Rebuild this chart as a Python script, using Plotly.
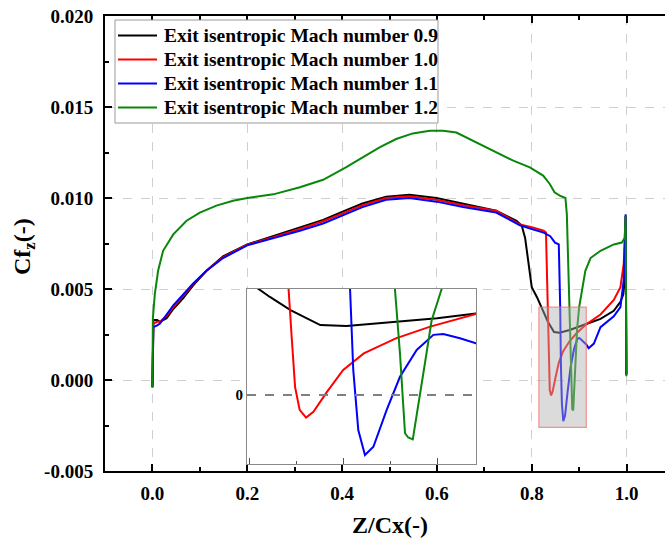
import plotly.graph_objects as go

# Skin-friction coefficient Cf_z along the axial chord for four exit Mach numbers
x_m09 = [0.0, 0.002, 0.01, 0.016, 0.03, 0.044, 0.065, 0.086, 0.114, 0.149, 0.2, 0.255,
         0.311, 0.36, 0.396, 0.443, 0.493, 0.542, 0.599, 0.655, 0.725, 0.768, 0.779,
         0.786, 0.793, 0.8, 0.811, 0.82, 0.825, 0.834, 0.847, 0.8585, 0.88, 0.898, 0.915,
         0.945, 0.973, 0.987, 0.993, 0.996, 0.998, 0.9995]
cf_m09 = [-0.0004, 0.0033, 0.0033, 0.0032, 0.0034, 0.0039, 0.0045, 0.0052, 0.0060, 0.0068,
          0.00745, 0.0079, 0.0084, 0.0088, 0.0092, 0.0097, 0.01007, 0.01018, 0.0100, 0.0097,
          0.0093, 0.00875, 0.00848, 0.0078, 0.0064, 0.0051, 0.00455, 0.0040, 0.0037, 0.0032,
          0.00264, 0.0026, 0.00275, 0.0029, 0.00308, 0.00336, 0.0038, 0.0043, 0.0047, 0.0055,
          0.0090, 0.0003]

x_m10 = [0.0, 0.002, 0.01, 0.016, 0.03, 0.044, 0.065, 0.086, 0.114, 0.149, 0.2, 0.255,
         0.311, 0.36, 0.396, 0.443, 0.493, 0.542, 0.599, 0.655, 0.725, 0.775, 0.8, 0.825,
         0.83, 0.8315, 0.833, 0.8345, 0.836, 0.838, 0.8408, 0.844, 0.85, 0.857, 0.866, 0.88,
         0.895, 0.915, 0.945, 0.973, 0.987, 0.994, 0.998, 0.9995]
cf_m10 = [-0.0004, 0.0031, 0.0032, 0.0032, 0.00353, 0.0040, 0.00463, 0.00527, 0.0060,
          0.00674, 0.00744, 0.00784, 0.0083, 0.00872, 0.0091, 0.0096, 0.0100, 0.0101, 0.0099,
          0.0096, 0.0093, 0.00855, 0.0084, 0.0082, 0.0081, 0.0062, 0.0040, 0.0022, 0.0003,
          -0.00056, -0.00085, -0.00063, 0.00013, 0.00095, 0.00157, 0.00214, 0.00258, 0.00306,
          0.0036, 0.0044, 0.0051, 0.0064, 0.0090, 0.0003]

x_m11 = [0.0, 0.002, 0.01, 0.016, 0.03, 0.044, 0.065, 0.086, 0.114, 0.149, 0.2, 0.255,
         0.311, 0.36, 0.396, 0.443, 0.493, 0.542, 0.599, 0.655, 0.725, 0.775, 0.8, 0.825,
         0.839, 0.849, 0.857, 0.8585, 0.86, 0.8614, 0.8636, 0.8665, 0.8702, 0.876, 0.8818,
         0.8891, 0.8964, 0.9007, 0.908, 0.915, 0.92, 0.931, 0.945, 0.973, 0.987, 0.994,
         0.998, 0.9995]
cf_m11 = [-0.0004, 0.0029, 0.0030, 0.0031, 0.0036, 0.0041, 0.0047, 0.0053, 0.0060, 0.0067,
          0.0074, 0.0078, 0.0082, 0.0086, 0.0090, 0.0095, 0.0099, 0.0100, 0.0098, 0.0095,
          0.0092, 0.0085, 0.0083, 0.0081, 0.0079, 0.00755, 0.00745, 0.0060, 0.0040, 0.00095,
          -0.00132, -0.00226, -0.00195, -0.00056, 0.00069, 0.0017, 0.00227, 0.0023, 0.00214,
          0.00195, 0.00175, 0.0020, 0.0029, 0.0035, 0.0040, 0.0055, 0.0091, 0.0003]

x_m12 = [0.0, 0.001, 0.005, 0.012, 0.0225, 0.044, 0.072, 0.1, 0.135, 0.17, 0.2, 0.255,
         0.311, 0.36, 0.408, 0.443, 0.479, 0.514, 0.549, 0.585, 0.613, 0.641, 0.676, 0.725,
         0.761, 0.796, 0.824, 0.838, 0.848, 0.859, 0.871, 0.874, 0.8796, 0.8818, 0.884,
         0.8854, 0.8874, 0.8898, 0.8927, 0.8956, 0.9, 0.906, 0.913, 0.924, 0.945, 0.973,
         0.99, 0.996, 0.998, 0.9995]
cf_m12 = [-0.0004, 0.0034, 0.0047, 0.0060, 0.0071, 0.0080, 0.00875, 0.0092, 0.00958, 0.00985,
          0.0100, 0.0102, 0.01059, 0.0110, 0.01168, 0.01223, 0.01278, 0.01324, 0.01355,
          0.0137, 0.0137, 0.0136, 0.01315, 0.01251, 0.01205, 0.01168, 0.01123, 0.01077,
          0.01031, 0.01013, 0.0100, 0.0091, 0.0040, 0.00157, -0.00144, -0.0016, -0.00167,
          -0.0003, 0.0012, 0.0028, 0.0040, 0.0049, 0.0060, 0.0067, 0.0071, 0.00745, 0.00755,
          0.0078, 0.0090, 0.0002]

series_names = ["Exit isentropic Mach number 0.9", "Exit isentropic Mach number 1.0",
                "Exit isentropic Mach number 1.1", "Exit isentropic Mach number 1.2"]
series_x = [x_m09, x_m10, x_m11, x_m12]
series_y = [cf_m09, cf_m10, cf_m11, cf_m12]
colors = ["#000000", "#ff0000", "#0000ff", "#0a870a"]

# Zoom window shown in the inset
ZOOM_X = (0.815, 0.915)
ZOOM_Y = (-0.0026, 0.004)

FONT = "Liberation Serif"
W, H = 665, 542
M_L, M_R, M_T, M_B = 105, 0, 16, 71


def px_x(px):
    """Horizontal pixel -> paper fraction of the plotting area."""
    return (px - M_L) / (W - M_L - M_R)


def px_y(py):
    """Vertical pixel (from top) -> paper fraction of the plotting area."""
    return (H - M_B - py) / (H - M_T - M_B)


fig = go.Figure()
for name, xs, ys, c in zip(series_names, series_x, series_y, colors):
    fig.add_trace(go.Scatter(x=xs, y=ys, mode="lines", name=name,
                             line=dict(color=c, width=2), xaxis="x", yaxis="y"))
for name, xs, ys, c in zip(series_names, series_x, series_y, colors):
    fig.add_trace(go.Scatter(x=xs, y=ys, mode="lines", name=name,
                             line=dict(color=c, width=2), xaxis="x2", yaxis="y2"))

tickfont = dict(family=FONT, size=19, color="black", weight="bold")

fig.update_layout(
    width=W, height=H,
    margin=dict(l=M_L, r=M_R, t=M_T, b=M_B),
    paper_bgcolor="white", plot_bgcolor="white",
    showlegend=False,
    xaxis=dict(
        domain=[0, 1], range=[-0.1, 1.081],
        tickvals=[0.0, 0.2, 0.4, 0.6, 0.8, 1.0],
        ticktext=["0.0", "0.2", "0.4", "0.6", "0.8", "1.0"],
        ticks="inside", ticklen=7, tickwidth=2, tickcolor="black",
        minor=dict(dtick=0.1, tick0=0, ticks="inside", ticklen=4, tickwidth=1.5,
                   tickcolor="black", showgrid=False),
        showline=True, linewidth=2, linecolor="black", mirror="ticks",
        showgrid=True, gridcolor="#cfcfcf", griddash="dash", gridwidth=1,
        zeroline=False, tickfont=tickfont, ticklabelstandoff=4,
    ),
    yaxis=dict(
        domain=[0, 1], range=[-0.005, 0.020],
        tickvals=[-0.005, 0.0, 0.005, 0.010, 0.015, 0.020],
        ticktext=["-0.005", "0.000", "0.005", "0.010", "0.015", "0.020"],
        ticks="inside", ticklen=7, tickwidth=2, tickcolor="black",
        minor=dict(dtick=0.0025, tick0=0, ticks="inside", ticklen=4, tickwidth=1.5,
                   tickcolor="black", showgrid=False),
        showline=True, linewidth=2, linecolor="black", mirror=False,
        showgrid=True, gridcolor="#cfcfcf", griddash="dash", gridwidth=1,
        zeroline=False, tickfont=tickfont, ticklabelstandoff=6,
    ),
    xaxis2=dict(
        domain=[px_x(247), px_x(476)], range=list(ZOOM_X), anchor="y2",
        showticklabels=False, ticks="inside", ticklen=6, tickwidth=1.2,
        tickcolor="#555555", tick0=0.8163, dtick=0.041,
        minor=dict(tick0=0.8163, dtick=0.0205, ticks="inside", ticklen=3,
                   tickcolor="#555555"),
        showline=True, linewidth=1.2, linecolor="#8a8a8a", mirror=True,
        showgrid=False, zeroline=False,
    ),
    yaxis2=dict(
        domain=[px_y(464), px_y(289)], range=list(ZOOM_Y), anchor="x2",
        tickvals=[0], ticktext=["0"], ticks="",
        showline=True, linewidth=1.2, linecolor="#8a8a8a", mirror=True,
        showgrid=False, zeroline=False,
        tickfont=dict(family=FONT, size=15, color="black", weight="bold"),
    ),
)

# Highlighted region on the main axes that the inset enlarges
fig.add_shape(type="rect", xref="x", yref="y",
              x0=ZOOM_X[0], x1=ZOOM_X[1], y0=ZOOM_Y[0], y1=ZOOM_Y[1],
              fillcolor="rgba(175,175,175,0.45)", line=dict(color="rgba(235,110,110,0.7)", width=1.2),
              layer="above")
# Zero reference in the inset
fig.add_shape(type="line", xref="x2", yref="y2",
              x0=ZOOM_X[0], x1=ZOOM_X[1], y0=0, y1=0,
              line=dict(color="#808080", width=2, dash="dash"))

# Compact boxed legend in the upper-left corner
fig.add_shape(type="rect", xref="paper", yref="paper",
              x0=px_x(115), x1=px_x(438), y0=px_y(123), y1=px_y(20),
              fillcolor="white", line=dict(color="#9a9a9a", width=1), layer="above")
for i, (name, c) in enumerate(zip(series_names, colors)):
    row = px_y(35.5 + 24 * i)
    fig.add_shape(type="line", xref="paper", yref="paper",
                  x0=px_x(118), x1=px_x(157), y0=row, y1=row,
                  line=dict(color=c, width=2), layer="above")
    fig.add_annotation(text=name, xref="paper", yref="paper", x=px_x(162), y=row,
                       xanchor="left", yanchor="middle", showarrow=False,
                       font=dict(family=FONT, size=19.5, color="black", weight="bold"))

fig.add_annotation(text="Z/Cx(-)", xref="paper", yref="paper", x=px_x(390), y=px_y(525),
                   showarrow=False, xanchor="center", yanchor="middle",
                   font=dict(family=FONT, size=24, color="black", weight="bold"))
fig.add_annotation(text="Cf<sub>z</sub>(-)", xref="paper", yref="paper", x=px_x(24), y=px_y(246),
                   showarrow=False, textangle=-90, xanchor="center", yanchor="middle",
                   font=dict(family=FONT, size=24, color="black", weight="bold"))

fig.write_html("out.html")
